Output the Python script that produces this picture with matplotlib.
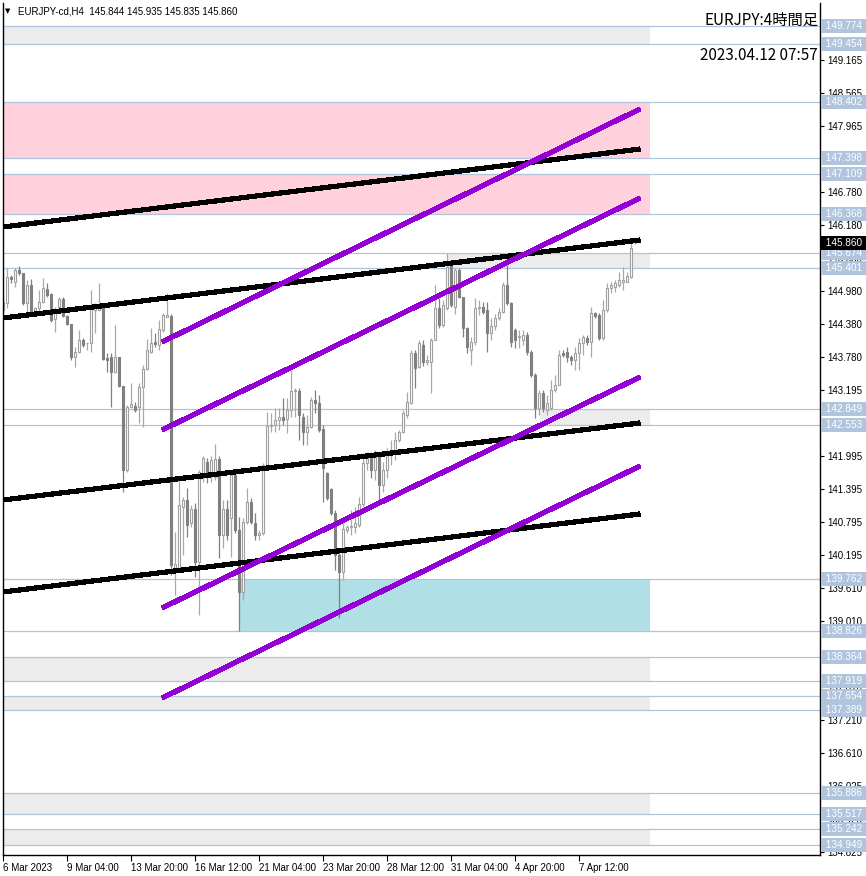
import matplotlib
matplotlib.use('Agg')
import matplotlib.pyplot as plt
from matplotlib.transforms import blended_transform_factory

# EURJPY H4 candles (bar index 0 = 6 Mar 2023)
opens = [144.638, 144.765, 145.236, 145.145, 145.363, 145.308, 144.765, 145.091, 144.602, 144.675,
         144.783, 145.019, 144.928, 144.475, 144.693, 144.838, 144.530, 144.385, 143.787, 143.878,
         144.095, 144.041, 144.041, 144.638, 144.638, 144.693, 143.769, 143.787, 143.516, 143.787,
         143.262, 141.741, 142.882, 142.900, 142.882, 143.244, 143.570, 143.878, 144.059, 144.005,
         144.276, 144.512, 144.530, 139.967, 139.967, 141.071, 141.198, 140.782, 141.035, 140.076,
         141.687, 141.887, 141.687, 141.615, 141.941, 140.565, 141.035, 140.872, 141.651, 140.655,
         139.532, 140.800, 141.162, 140.782, 140.565, 140.601, 141.796, 142.538, 142.556, 142.647,
         142.701, 142.665, 142.828, 143.172, 143.172, 142.701, 142.430, 142.520, 143.009, 142.955,
         142.484, 141.687, 141.397, 140.963, 140.203, 139.895, 140.655, 140.709, 140.709, 140.746,
         141.126, 141.869, 141.977, 141.741, 142.013, 141.470, 141.741, 142.013, 142.068, 142.285,
         142.430, 142.738, 142.955, 143.860, 143.606, 144.005, 143.697, 143.697, 144.095, 144.675,
         144.367, 144.675, 145.453, 144.693, 145.363, 144.874, 144.312, 143.914, 144.059, 144.675,
         144.693, 144.638, 144.222, 144.348, 144.493, 144.602, 145.091, 144.765, 144.276, 144.149,
         144.095, 144.186, 143.878, 143.461, 142.864, 143.136, 142.828, 142.864, 143.190, 143.280,
         143.860, 143.878, 143.787, 143.733, 143.860, 144.041, 144.131, 144.059, 144.584, 144.548,
         144.131, 144.638, 145.037, 145.055, 145.091, 145.145, 145.145, 145.236, 145.844]
highs = [144.946, 145.399, 145.272, 145.399, 145.435, 145.308, 145.182, 145.200, 144.693, 145.001,
         145.218, 145.127, 144.946, 144.693, 144.874, 144.874, 144.548, 144.385, 143.969, 144.276,
         144.131, 144.041, 145.001, 144.765, 145.127, 144.711, 143.860, 143.860, 144.367, 143.787,
         143.262, 142.918, 143.317, 142.973, 143.317, 143.643, 144.113, 144.312, 144.222, 144.457,
         144.584, 144.946, 144.566, 140.619, 141.560, 141.253, 141.416, 141.108, 141.144, 141.741,
         141.995, 141.959, 141.995, 142.213, 141.995, 141.198, 141.198, 141.705, 141.687, 140.891,
         140.872, 141.416, 141.234, 140.963, 140.655, 141.869, 142.792, 142.774, 142.864, 142.864,
         143.045, 143.045, 143.552, 143.226, 143.226, 142.774, 142.738, 143.063, 143.190, 143.099,
         142.556, 141.705, 141.416, 141.017, 140.257, 140.782, 140.746, 141.017, 141.071, 141.253,
         142.050, 142.068, 142.068, 142.104, 142.068, 141.887, 142.140, 142.285, 142.430, 142.466,
         142.828, 143.154, 143.914, 143.914, 144.095, 144.095, 143.824, 144.131, 145.091, 144.856,
         144.820, 145.671, 145.507, 145.399, 145.399, 144.874, 144.330, 144.149, 144.856, 144.820,
         144.783, 144.783, 144.493, 144.566, 144.675, 145.145, 145.453, 144.783, 144.312, 144.276,
         144.276, 144.240, 143.914, 143.498, 143.190, 143.190, 143.099, 143.371, 143.461, 143.914,
         143.914, 143.969, 143.824, 143.969, 144.131, 144.186, 144.186, 144.693, 144.602, 144.584,
         144.820, 145.127, 145.145, 145.182, 145.326, 145.417, 145.326, 145.851, 145.935]
lows = [144.548, 144.675, 145.127, 145.055, 145.272, 144.729, 144.602, 144.584, 144.602, 144.602,
        144.765, 144.874, 144.421, 144.240, 144.638, 144.512, 144.367, 143.733, 143.606, 143.860,
        143.969, 143.914, 143.878, 144.222, 144.638, 143.733, 143.516, 142.882, 143.498, 143.244,
        141.343, 141.705, 142.864, 142.792, 142.593, 142.520, 143.552, 143.860, 143.969, 143.914,
        144.240, 144.512, 139.840, 139.478, 139.895, 140.203, 140.528, 140.709, 139.804, 139.117,
        141.524, 141.506, 141.524, 141.560, 140.148, 140.329, 140.474, 140.166, 140.601, 138.826,
        139.388, 140.764, 140.764, 140.474, 140.474, 140.565, 141.778, 142.430, 142.430, 142.466,
        142.556, 142.411, 142.701, 142.701, 142.285, 142.195, 142.195, 142.502, 142.774, 142.430,
        141.162, 141.198, 140.927, 139.931, 139.062, 139.750, 140.601, 140.565, 140.601, 140.709,
        141.071, 141.741, 141.597, 141.560, 141.198, 141.343, 141.597, 141.833, 141.923, 142.249,
        142.411, 142.683, 142.936, 143.226, 143.588, 143.624, 143.643, 143.136, 144.095, 144.312,
        144.330, 144.638, 144.693, 144.566, 144.856, 144.149, 143.860, 143.643, 144.005, 144.548,
        144.566, 143.878, 144.095, 144.276, 144.457, 144.584, 144.729, 143.969, 143.950, 143.950,
        144.005, 143.824, 143.425, 142.683, 142.738, 142.792, 142.738, 142.828, 143.154, 143.280,
        143.787, 143.697, 143.643, 143.552, 143.552, 143.824, 144.005, 143.787, 144.493, 144.095,
        144.095, 144.602, 144.946, 144.964, 145.055, 145.001, 145.145, 145.218, 145.835]
closes = [144.783, 145.236, 145.200, 145.363, 145.308, 144.765, 145.091, 144.602, 144.675, 144.783,
          145.037, 144.910, 144.457, 144.602, 144.838, 144.530, 144.385, 143.787, 143.878, 144.095,
          144.005, 144.045, 144.675, 144.675, 144.693, 143.751, 143.733, 143.516, 143.787, 143.262,
          141.741, 142.882, 142.936, 142.828, 143.244, 143.570, 143.914, 144.041, 144.023, 144.294,
          144.548, 144.548, 140.022, 140.040, 141.108, 141.198, 140.746, 141.035, 140.076, 141.705,
          141.959, 141.687, 141.923, 141.941, 140.565, 141.035, 140.565, 141.651, 140.655, 139.532,
          140.800, 141.162, 140.800, 140.565, 140.601, 141.833, 142.538, 142.556, 142.647, 142.701,
          142.647, 142.828, 143.172, 143.190, 142.738, 142.430, 142.520, 143.009, 142.955, 142.466,
          141.778, 141.234, 140.963, 140.203, 139.895, 140.673, 140.709, 140.728, 140.782, 141.126,
          141.869, 141.977, 141.741, 142.013, 141.470, 141.741, 142.013, 142.068, 142.285, 142.430,
          142.774, 142.973, 143.860, 143.588, 144.041, 143.697, 143.733, 144.095, 144.675, 144.367,
          144.729, 145.417, 144.729, 145.363, 144.874, 144.312, 143.969, 144.059, 144.675, 144.693,
          144.602, 144.222, 144.348, 144.493, 144.602, 145.091, 144.765, 144.059, 144.095, 144.167,
          144.186, 143.878, 143.461, 142.864, 143.136, 142.864, 142.955, 143.190, 143.280, 143.824,
          143.824, 143.787, 143.733, 143.860, 144.041, 144.149, 144.059, 144.584, 144.530, 144.131,
          144.638, 145.037, 145.091, 145.127, 145.182, 145.182, 145.254, 145.761, 145.860]

time_ticks = [0, 16, 32, 48, 64, 80, 96, 112, 128, 144]
time_labels = ['6 Mar 2023', '9 Mar 04:00', '13 Mar 20:00', '16 Mar 12:00', '21 Mar 04:00',
               '23 Mar 20:00', '28 Mar 12:00', '31 Mar 04:00', '4 Apr 20:00', '7 Apr 12:00']
price_ticks = [149.165, 148.565, 147.965, 147.380, 146.780, 146.180, 145.580, 144.980, 144.380,
               143.780, 143.195, 142.595, 141.995, 141.395, 140.795, 140.195, 139.610, 139.010,
               138.410, 137.810, 137.210, 136.610, 136.025, 135.425, 134.825]

levels = [149.774, 149.454, 148.402, 147.398, 147.109, 146.368, 145.674, 145.401, 142.849, 142.553,
          139.762, 138.826, 138.364, 137.919, 137.654, 137.389, 135.886, 135.517, 135.242, 134.949]

# zones: (low, high, start bar, colour)
zones = [(149.454, 149.774, -1, '#ececec'),
         (147.398, 148.402, -1, '#ffd1dc'),
         (146.368, 147.109, -1, '#ffd1dc'),
         (145.401, 145.674, 110.9, '#ececec'),
         (142.553, 142.849, 134.2, '#ececec'),
         (138.826, 139.762, 59.2, '#b0e0e6'),
         (137.919, 138.364, -1, '#ececec'),
         (137.389, 137.654, -1, '#ececec'),
         (135.517, 135.886, -1, '#ececec'),
         (134.949, 135.242, -1, '#ececec')]
zone_end = 161.7

# trend lines: (bar, price) -> (bar, price)
black_lines = [((-0.1, 146.141), (159.2, 147.553)),
               ((-0.1, 144.493), (159.2, 145.906)),
               ((-0.1, 141.198), (159.2, 142.593)),
               ((-0.1, 139.532), (159.2, 140.945))]
purple_lines = [((39.7, 144.059), (159.2, 148.278)),
                ((39.7, 142.466), (159.2, 146.666)),
                ((39.7, 139.243), (159.2, 143.425)),
                ((39.7, 137.613), (159.2, 141.814))]

last_price = closes[-1]

W, H = 866, 876
fig = plt.figure(figsize=(W / 100, H / 100), dpi=100)
ax = fig.add_axes([3 / W, 1 - 855 / H, (820 - 3) / W, (855 - 3) / H])
ax.set_xlim(-0.075, 204.2)
ax.set_ylim(134.770, 150.197)

font = 'Liberation Sans'

for lo, hi, start, col in zones:
    ax.fill_between([max(start, -0.075), zone_end], lo, hi, color=col, lw=0, zorder=0)
for lv in levels:
    ax.axhline(lv, color='#b0c4de', lw=0.9, zorder=0.5)

# candles
for i in range(len(opens)):
    o, h, l, c = opens[i], highs[i], lows[i], closes[i]
    if c >= o:
        ax.vlines(i, l, h, color='#a8a8a8', lw=0.9, zorder=1)
        ax.bar(i, max(c - o, 0.004), bottom=o, width=0.55, facecolor='white',
               edgecolor='#a0a0a0', lw=0.8, zorder=2)
    else:
        ax.vlines(i, l, h, color='#808080', lw=0.9, zorder=1)
        ax.bar(i, o - c, bottom=c, width=0.55, facecolor='#808080',
               edgecolor='#808080', lw=0.8, zorder=2)

for (x0, y0), (x1, y1) in black_lines:
    ax.plot([x0, x1], [y0, y1], color='black', lw=3.0, solid_capstyle='butt', zorder=3,
            antialiased=False)
for (x0, y0), (x1, y1) in purple_lines:
    ax.plot([x0, x1], [y0, y1], color='#9400d3', lw=3.0, solid_capstyle='butt', zorder=3,
            antialiased=False)

# axes look
ax.spines['top'].set_visible(False)
for s in ['left', 'right', 'bottom']:
    ax.spines[s].set_color('black')
    ax.spines[s].set_linewidth(1.0)

ax.yaxis.tick_right()
ax.set_yticks(price_ticks)
ax.set_yticklabels(['%.3f' % p for p in price_ticks], fontsize=7, family=font)
ax.tick_params(axis='y', length=3, width=0.8, pad=2, colors='black')
ax.set_xticks(time_ticks)
ax.set_xticklabels(time_labels, fontsize=7, family=font, ha='left')
ax.tick_params(axis='x', length=4, width=0.8, pad=2, colors='black')

tr = blended_transform_factory(ax.transAxes, ax.transData)
box_x = 1.0 + 3 / 817
for lv in levels:
    ax.text(box_x, lv, ' %.3f ' % lv, transform=tr, fontsize=7.2, family=font,
            color='white', va='center', ha='left', zorder=6, clip_on=False,
            bbox=dict(boxstyle='square,pad=0.2', fc='#b0c4de', ec='none'))
ax.text(box_x, last_price, ' %.3f ' % last_price, transform=tr, fontsize=7.2, family=font,
        color='white', va='center', ha='left', zorder=7, clip_on=False,
        bbox=dict(boxstyle='square,pad=0.2', fc='black', ec='none'))

# header texts
fig.text(5 / W, 1 - 11 / H, '\u25bc', fontsize=5, color='black', va='center', family='DejaVu Sans')
fig.text(18 / W, 1 - 11 / H, 'EURJPY-cd,H4  %.3f %.3f %.3f %.3f' % (opens[-1], highs[-1], lows[-1], closes[-1]),
         fontsize=7, family=font, va='center', color='black')
jp = ['Noto Sans CJK JP', 'DejaVu Sans']
fig.text(818 / W, 1 - 20 / H, 'EURJPY:4時間足', fontsize=11, family=jp, ha='right', va='center')
fig.text(818 / W, 1 - 55 / H, '2023.04.12 07:57', fontsize=11, family=jp, ha='right', va='center')

fig.savefig('out.png', dpi=100, facecolor='white')
